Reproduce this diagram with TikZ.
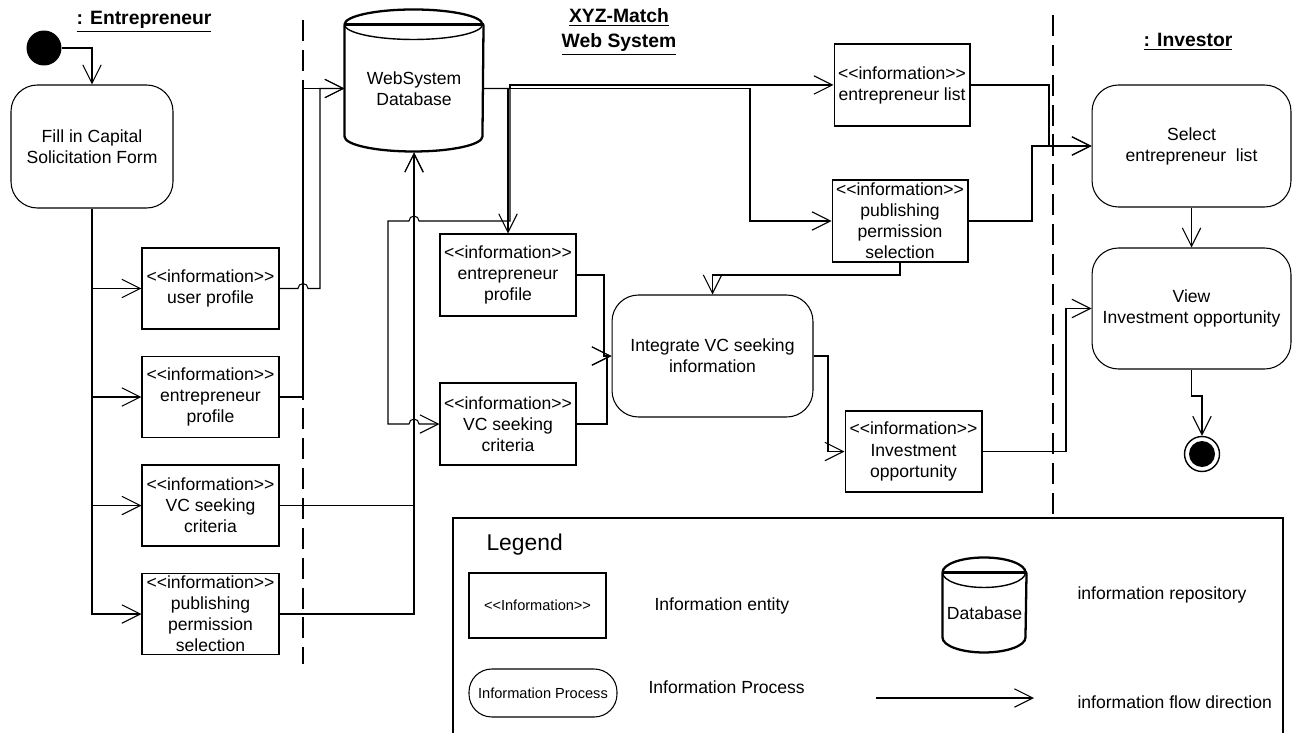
\documentclass[tikz,border=0pt]{standalone}
\usepackage{fontspec}
\setmainfont{Liberation Sans}
\usetikzlibrary{arrows.meta}
% stereotype text, keeping << and >> from turning into guillemets
\newcommand{\stereo}[1]{<{}<#1>{}>}

\begin{document}
\begin{tikzpicture}[x=0.02cm, y=-0.02cm, line width=0.6pt,
  txt/.style={font=\fontsize{10}{12}\selectfont, align=center},
  infobox/.style={txt, draw, inner sep=0pt, minimum width=2.74cm, minimum height=1.62cm},
  procbox/.style={txt, draw, rounded corners=15pt, inner sep=0pt},
  flow/.style={-{Straight Barb[length=10.5pt, width=10.5pt]}},
  lane/.style={dash pattern=on 12pt off 5pt, line width=0.8pt},
  dbline/.style={line width=1.3pt},
  header/.style={font=\bfseries\fontsize{11}{14}\selectfont, align=center},
  legtxt/.style={font=\fontsize{10}{12}\selectfont, anchor=west, inner sep=0pt}]

\useasboundingbox (0,0) rectangle (1293,733);

% swimlane separators
\draw[lane] (303,20) -- (303,664);
\draw[lane] (1053,15) -- (1053,518);

% lane titles
\node[header] (hEnt) at (144,22) {\underline{: Entrepreneur}};
\node[header] (hWeb) at (619,32) {\underline{XYZ-Match}\\\underline{Web System}};
\node[header] (hInv) at (1188,42) {\underline{: Investor}};

% entrepreneur lane
\node[circle, fill=black, minimum size=0.7cm, inner sep=0pt] (start) at (44,48) {};
\node[procbox, minimum width=3.24cm, minimum height=2.46cm] (fill) at (92,146.5) {Fill in Capital\\Solicitation Form};
\node[infobox] (up) at (210.5,288.5) {\stereo{information}\\user profile};
\node[infobox] (ep) at (210.5,397) {\stereo{information}\\entrepreneur\\profile};
\node[infobox] (vc) at (210.5,505.5) {\stereo{information}\\VC seeking\\criteria};
\node[infobox] (pp) at (210.5,614) {\stereo{information}\\publishing\\permission\\selection};

% web system lane
\node[txt, minimum width=2.76cm, minimum height=2.54cm, inner sep=0pt] (db) at (414,88.5) {WebSystem\\Database};
\draw[dbline] (db.north west) -- ++(0,112) arc[start angle=180, end angle=360, x radius=1.38cm, y radius=0.3cm] -- (db.north east);
\draw[dbline] (db.north west) arc[start angle=180, end angle=0, x radius=1.38cm, y radius=0.3cm];
\draw[dbline] (db.north west) -- (db.north east);
\draw[line width=0.8pt] (db.north west) arc[start angle=180, end angle=360, x radius=1.38cm, y radius=0.3cm];

\node[infobox, minimum width=2.72cm, minimum height=1.64cm] (epm) at (508,275) {\stereo{information}\\entrepreneur\\profile};
\node[infobox, minimum width=2.72cm, minimum height=1.64cm] (vcm) at (508,424) {\stereo{information}\\VC seeking\\criteria};
\node[procbox, minimum width=4.02cm, minimum height=2.44cm] (integ) at (712.5,356) {Integrate VC seeking\\information};
\node[infobox, minimum width=2.72cm, minimum height=1.64cm] (el) at (902,85) {\stereo{information}\\entrepreneur list};
\node[infobox, minimum width=2.72cm, minimum height=1.64cm] (ppm) at (900,221) {\stereo{information}\\publishing\\permission\\selection};
\node[infobox] (io) at (913.5,451.5) {\stereo{information}\\Investment\\opportunity};

% investor lane
\node[procbox, minimum width=3.98cm, minimum height=2.44cm] (sel) at (1191.5,146) {Select\\entrepreneur\ \ list};
\node[procbox, minimum width=3.98cm, minimum height=2.42cm] (view) at (1191.5,308.5) {View\\Investment opportunity};
\node[circle, draw, line width=0.8pt, minimum size=0.7cm, inner sep=0pt] (end) at (1202,454) {};
\fill (end.center) circle[radius=0.26cm];

% flows in the entrepreneur lane
\draw[flow] (start.east) -| (fill.north);
\draw[flow] (fill.south) |- (up.west);
\draw[flow] (fill.south) |- (ep.west);
\draw[flow] (fill.south) |- (vc.west);
\draw[flow] (fill.south) |- (pp.west);

% flows into the database
\draw[flow] (up.east) -- (298,288.5) arc[start angle=180, end angle=0, radius=0.1cm] -- (320,288.5) |- (db.west);
\draw[flow] (ep.east) -- (303,397) |- (db.west);
\draw[flow] (vc.east) -| (db.south);
\draw[flow] (pp.east) -| (db.south);

% flows out of the database
\draw[flow] (db.east) -| (epm.north);
\draw[flow] (db.east) -- (510,88.5) -- (510,221) -- (419,221)
  arc[start angle=0, end angle=180, radius=0.1cm] -- (388,221) -- (388,424) -- (409,424)
  arc[start angle=180, end angle=0, radius=0.1cm] -- (vcm.west);
\draw[flow] (db.east) -- (510,88.5) |- (el.west);
\draw[flow] (db.east) -- (750,88.5) |- (ppm.west);

% integration
\draw[flow] (epm.east) -- (604,275) |- (integ.west);
\draw[flow] (vcm.east) -- (607,424) |- (integ.west);
\draw[flow] (ppm.south) -- (900,275) -| (integ.north);
\draw[flow] (integ.east) -- (828,356) |- (io.west);

% investor flows
\draw[flow] (el.east) -- (1049,85) |- (sel.west);
\draw[flow] (ppm.east) -- (1032,221) |- (sel.west);
\draw[flow] (sel.south) -- (view.north);
\draw[flow] (io.east) -- (1066,451.5) |- (view.west);
\draw[flow] (view.south) -- (1191.5,396) -| (end.north);

% legend
\draw[line width=0.8pt] (453,733) -- (453,518) -- (1283,518) -- (1283,733);
\node[font=\fontsize{13}{15}\selectfont, anchor=west, inner sep=0pt] (legTitle) at (486,545) {Legend};
\node[draw, inner sep=0pt, minimum width=2.74cm, minimum height=1.3cm, font=\fontsize{8.3}{10}\selectfont] (legInfo) at (537.5,605.5) {\stereo{Information}};
\node[legtxt] (legInfoTxt) at (654,606) {Information entity};
\node[draw, rounded corners=13pt, inner sep=0pt, minimum width=2.96cm, minimum height=0.96cm, font=\fontsize{8.3}{10}\selectfont] (legProc) at (543,693) {Information Process};
\node[legtxt] (legProcTxt) at (648,687) {Information Process};
\node[txt, minimum width=1.66cm, minimum height=1.6cm, inner sep=0pt] (ldb) at (984.5,613) {Database};
\draw[dbline] (ldb.north west) -- ++(0,65) arc[start angle=180, end angle=360, x radius=0.83cm, y radius=0.3cm] -- (ldb.north east);
\draw[dbline] (ldb.north west) arc[start angle=180, end angle=0, x radius=0.83cm, y radius=0.3cm];
\draw[dbline] (ldb.north west) -- (ldb.north east);
\draw[line width=0.8pt] (ldb.north west) arc[start angle=180, end angle=360, x radius=0.83cm, y radius=0.3cm];
\node[legtxt] (legDbTxt) at (1077,595) {information repository};
\coordinate (la1) at (876,698);
\coordinate (la2) at (1034,698);
\draw[flow] (la1) -- (la2);
\node[legtxt] (legFlowTxt) at (1077,702) {information flow direction};
\end{tikzpicture}
\end{document}
